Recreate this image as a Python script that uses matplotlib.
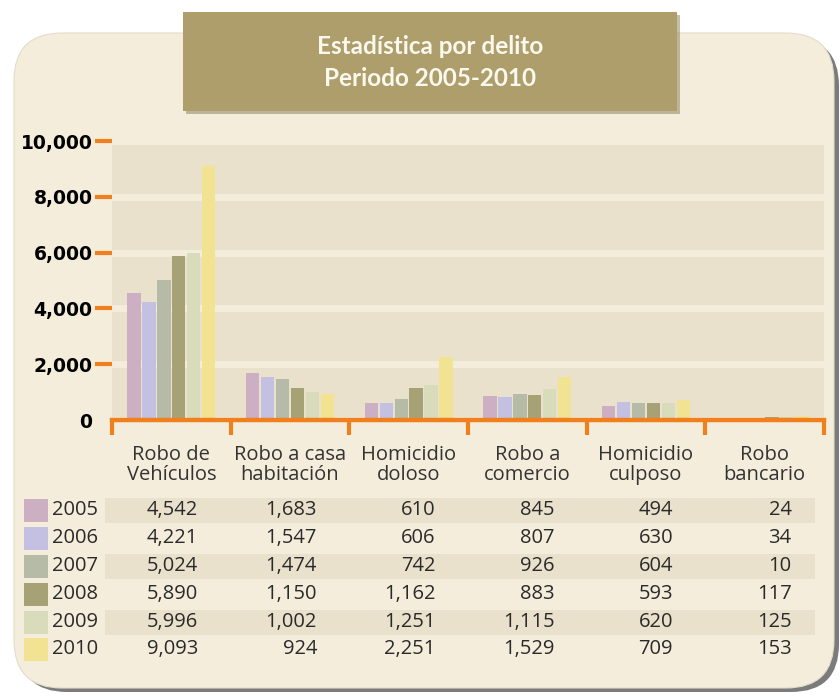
import matplotlib
matplotlib.use("Agg")
import matplotlib.pyplot as plt
from matplotlib.patches import FancyBboxPatch, Rectangle

categorias = ["Robo de\nVehículos", "Robo a casa\nhabitación", "Homicidio\ndoloso",
              "Robo a\ncomercio", "Homicidio\nculposo", "Robo\nbancario"]
anios = ["2005", "2006", "2007", "2008", "2009", "2010"]
v2005 = [4542, 1683, 610, 845, 494, 24]
v2006 = [4221, 1547, 606, 807, 630, 34]
v2007 = [5024, 1474, 742, 926, 604, 10]
v2008 = [5890, 1150, 1162, 883, 593, 117]
v2009 = [5996, 1002, 1251, 1115, 620, 125]
v2010 = [9093, 924, 2251, 1529, 709, 153]
series = [v2005, v2006, v2007, v2008, v2009, v2010]
colores = ["#CDAFC4", "#C3C0E2", "#B5BBA7", "#A7A276", "#D9DCBA", "#F2E393"]
yticks = [0, 2000, 4000, 6000, 8000, 10000]

naranja = "#F0801E"
fondo = "#F4EDDB"
banda = "#EAE1CC"

W, H = 840, 696
fig = plt.figure(figsize=(W / 100, H / 100), dpi=100)
fig.patch.set_facecolor("white")

# fondo en coordenadas de pixel
bg = fig.add_axes([0, 0, 1, 1])
bg.set_xlim(0, W)
bg.set_ylim(H, 0)
bg.axis("off")

sombra = FancyBboxPatch((19, 38), 820, 654, boxstyle="round,pad=0,rounding_size=48",
                        fc="#5a5a5a", ec="none", alpha=0.8)
bg.add_patch(sombra)
panel = FancyBboxPatch((14, 33), 820, 655, boxstyle="round,pad=0,rounding_size=48",
                       fc=fondo, ec="#e2dccb", lw=0.8)
bg.add_patch(panel)

# caja del titulo
bg.add_patch(Rectangle((186, 15), 494, 99, fc="#8a7d55", ec="none", alpha=0.5))
bg.add_patch(Rectangle((183, 12), 494, 99, fc="#AD9E6C", ec="none"))
bg.text(430, 47, "Estadística por delito", ha="center", va="center",
        color="#FBF8EE", fontsize=17.5, fontweight="bold", family="Lato")
bg.text(430, 78, "Periodo 2005-2010", ha="center", va="center",
        color="#FBF8EE", fontsize=17.5, fontweight="bold", family="Lato")

# grafica de barras
x0, x1, y_top, y_cero = 112, 824, 141, 420
ax = fig.add_axes([x0 / W, (H - y_cero) / H, (x1 - x0) / W, (y_cero - y_top) / H])
ax.set_facecolor(banda)
ax.set_xlim(0, 6)
ax.set_ylim(0, 10000)
ax.set_axisbelow(True)
ax.yaxis.grid(True, color=fondo, linewidth=5)

paso, ancho = 0.126, 0.112
for j, (vals, c) in enumerate(zip(series, colores)):
    xs = [i + 0.5 + (j - 2.5) * paso for i in range(len(categorias))]
    ax.bar(xs, vals, width=ancho, color=c, zorder=3)

for s in ["top", "right", "left"]:
    ax.spines[s].set_visible(False)
ax.spines["bottom"].set_color(naranja)
ax.spines["bottom"].set_linewidth(3.2)
ax.spines["bottom"].set_zorder(4)

ax.set_xticks(range(7))
ax.set_xticklabels([])
ax.tick_params(axis="x", direction="out", length=11, width=3, color=naranja)
ax.set_yticks(yticks)
ax.set_yticklabels([f"{v:,}" for v in yticks], fontsize=13.5, fontweight="bold",
                   family="DejaVu Sans")
ax.tick_params(axis="y", direction="out", length=12, width=3, color=naranja, pad=2)
ax.yaxis.get_major_ticks()[0].tick1line.set_visible(False)

# tabla de datos
centros = [x0 + (i + 0.5) * (x1 - x0) / 6 for i in range(6)]
for cx, cat in zip(centros, categorias):
    bg.text(cx, 465, cat, ha="center", va="center", fontsize=14.5,
            family="Open Sans", color="#333333", linespacing=0.95)

fila_y = [510, 538, 566, 594, 622, 649]
for k, (anio, vals, c, fy) in enumerate(zip(anios, series, colores, fila_y)):
    if k % 2 == 0:
        bg.add_patch(Rectangle((105, fy - 12.5), 710, 25, fc=banda, ec="none"))
    bg.add_patch(Rectangle((24, fy - 11.5), 24, 23, fc=c, ec="none"))
    bg.text(52, fy, anio, ha="left", va="center", fontsize=14.5,
            family="Open Sans", color="#2a2a2a")
    for cx, v in zip(centros, vals):
        bg.text(cx + 27, fy, f"{v:,}", ha="right", va="center", fontsize=14.5,
                family="Open Sans", color="#2a2a2a")

fig.savefig("out.png", dpi=100, facecolor="white")
